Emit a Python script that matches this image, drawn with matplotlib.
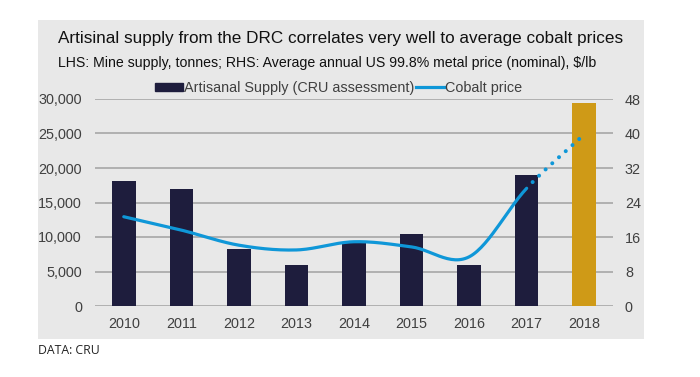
import matplotlib.pyplot as plt
import matplotlib.patches as mpatches
from matplotlib.lines import Line2D
import numpy as np

# data
years = ['2010', '2011', '2012', '2013', '2014', '2015', '2016', '2017', '2018']
supply = [18100, 17000, 8200, 6000, 9300, 10500, 6000, 19000, 29400]
price = [20.7, 17.6, 14.1, 13.0, 14.9, 13.7, 11.4, 27.3, 39.8]

left_ticks = [0, 5000, 10000, 15000, 20000, 25000, 30000]
right_ticks = [0, 8, 16, 24, 32, 40, 48]

navy = '#1e1d3d'
gold = '#cf9a17'
blue = '#0f97d8'
grid = '#a6a6a6'
txt = '#404040'

plt.rcParams['font.family'] = ['Liberation Sans', 'DejaVu Sans']


# Catmull-Rom smoothing, like Excel's "smoothed line"
def smooth(x, y, n=30):
    x = np.asarray(x, float)
    y = np.asarray(y, float)
    px = np.concatenate([[2 * x[0] - x[1]], x, [2 * x[-1] - x[-2]]])
    py = np.concatenate([[2 * y[0] - y[1]], y, [2 * y[-1] - y[-2]]])
    xs, ys = [], []
    for i in range(1, len(px) - 2):
        t = np.linspace(0, 1, n)
        for arr, out in ((px, xs), (py, ys)):
            p0, p1, p2, p3 = arr[i - 1], arr[i], arr[i + 1], arr[i + 2]
            out.append(0.5 * ((2 * p1) + (-p0 + p2) * t
                              + (2 * p0 - 5 * p1 + 4 * p2 - p3) * t ** 2
                              + (-p0 + 3 * p1 - 3 * p2 + p3) * t ** 3))
    return xs, ys


fig = plt.figure(figsize=(7, 3.77), dpi=100)

# gray panel behind everything
fig.patches.append(mpatches.Rectangle((38 / 700, 1 - 339 / 377), 606 / 700, 319 / 377,
                                      transform=fig.transFigure, facecolor='#e8e8e8',
                                      edgecolor='none', zorder=-10))

ax = fig.add_axes([95 / 700, 1 - 306 / 377, 518 / 700, 207 / 377])
ax.set_facecolor('none')
x = np.arange(len(years))
colors = [navy] * (len(years) - 1) + [gold]
ax.bar(x, supply, width=0.41, color=colors, zorder=3)
ax.set_xlim(-0.5, len(years) - 0.5)
ax.set_ylim(0, 30000)
ax.set_yticks(left_ticks)
ax.set_yticklabels([f'{v:,}' for v in left_ticks])
ax.set_xticks(x)
ax.set_xticklabels(years)
ax.yaxis.grid(True, color=grid, linewidth=1.2, zorder=0)
ax.set_axisbelow(True)
for s in ax.spines.values():
    s.set_visible(False)
ax.tick_params(length=0, colors=txt, labelsize=10.4)
ax.tick_params(axis='y', pad=9.4)
ax.tick_params(axis='x', pad=8)

ax2 = ax.twinx()
ax2.set_ylim(0, 48)
ax2.set_yticks(right_ticks)
for s in ax2.spines.values():
    s.set_visible(False)
ax2.tick_params(length=0, colors=txt, labelsize=10.4, pad=8.6)

xs, ys = smooth(x, price)
solid_n = len(years) - 2
sx = np.concatenate(xs[:solid_n])
sy = np.concatenate(ys[:solid_n])
ax2.plot(sx, sy, color=blue, linewidth=2.3, solid_capstyle='round', zorder=4)
# 2018 is shown dotted
ax2.plot(xs[-1][3:], ys[-1][3:], color=blue, linewidth=2.9, linestyle=(0, (0.01, 2.24)),
         dash_capstyle='round', zorder=4)

# titles
fig.text(58 / 700, 1 - 38 / 377, 'Artisinal supply from the DRC correlates very well to average cobalt prices',
         fontsize=12.3, color='#111111', va='center', ha='left')
fig.text(58 / 700, 1 - 63 / 377,
         'LHS: Mine supply, tonnes; RHS: Average annual US 99.8% metal price (nominal), $/lb',
         fontsize=10.2, color='#111111', va='center', ha='left')

handles = [mpatches.Patch(color=navy, label='Artisanal Supply (CRU assessment)'),
           Line2D([], [], color=blue, linewidth=2.3, label='Cobalt price')]
fig.legend(handles=handles, loc='center', bbox_to_anchor=(338.5 / 700, 1 - 88 / 377), ncol=2,
           frameon=False, fontsize=10.4, labelcolor=txt, handlelength=1.95, handleheight=0.45,
           handletextpad=0.05, columnspacing=0.15, borderpad=0, borderaxespad=0)

fig.text(38 / 700, 1 - 350 / 377, 'DATA: CRU', fontsize=8.8, color='#222222',
         va='center', ha='left', family=['Open Sans', 'DejaVu Sans'])

fig.savefig('out.png', dpi=100)
